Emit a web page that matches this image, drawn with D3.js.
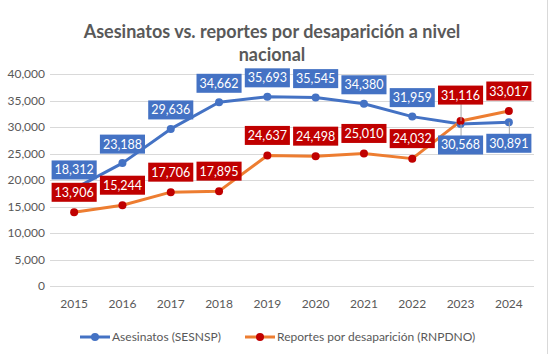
<!DOCTYPE html>
<html>
<head>
<meta charset="utf-8">
<script src="https://cdn.jsdelivr.net/npm/d3@7"></script>
<style>
  html, body { margin: 0; padding: 0; background: #fff; }
  svg { display: block; font-family: Lato, "Open Sans", sans-serif; }
</style>
</head>
<body>
<svg id="chart" width="550" height="354"></svg>
<script>
const years = ["2015","2016","2017","2018","2019","2020","2021","2022","2023","2024"];
const asesinatos = [18312, 23188, 29636, 34662, 35693, 35545, 34380, 31959, 30568, 30891];
const desapariciones = [13906, 15244, 17706, 17895, 24637, 24498, 25010, 24032, 31116, 33017];
const yTicks = [0, 5000, 10000, 15000, 20000, 25000, 30000, 35000, 40000];
const seriesNames = ["Asesinatos (SESNSP)", "Reportes por desaparición (RNPDNO)"];
const titleLines = ["Asesinatos vs. reportes por desaparición a nivel", "nacional"];

const W = 550, H = 354;
const svg = d3.select("#chart");
svg.append("rect").attr("width", W).attr("height", H).attr("fill", "#fff");
svg.append("line").attr("x1", 547.5).attr("x2", 547.5).attr("y1", 0).attr("y2", H)
  .attr("stroke", "#D9D9D9").attr("stroke-width", 1);

const plotL = 50, plotR = 533, plotT = 74, plotB = 286;
const x = d3.scaleBand().domain(years).range([plotL, plotR]).padding(0);
const cx = d => x(d) + x.bandwidth() / 2;
const y = d3.scaleLinear().domain([0, 40000]).range([plotB, plotT]);

// title
const title = svg.append("text").attr("text-anchor", "middle")
  .attr("fill", "#595959").attr("font-weight", "bold").attr("font-size", 18);
titleLines.forEach((t, i) => {
  title.append("tspan").attr("x", 272).attr("y", 38 + i * 23).text(t);
});

// gridlines
svg.append("g").selectAll("line").data(yTicks).join("line")
  .attr("x1", plotL).attr("x2", plotR + 1)
  .attr("y1", d => Math.round(y(d)) + 0.5).attr("y2", d => Math.round(y(d)) + 0.5)
  .attr("stroke", "#D9D9D9").attr("stroke-width", 1);

// y axis
const yAxis = svg.append("g").attr("transform", `translate(${plotL},0)`)
  .call(d3.axisLeft(y).tickValues(yTicks).tickSize(0).tickPadding(5).tickFormat(d3.format(",")));
yAxis.select(".domain").remove();
yAxis.selectAll("text").attr("fill", "#595959").attr("font-size", 12).attr("font-family", "Lato, sans-serif");

// x axis
const xAxis = svg.append("g").attr("transform", `translate(0,${plotB})`)
  .call(d3.axisBottom(x).tickSize(0).tickPadding(13));
xAxis.select(".domain").remove();
xAxis.selectAll("text").attr("fill", "#595959").attr("font-size", 12).attr("font-family", "Lato, sans-serif");

const BLUE = "#4472C4", ORANGE = "#ED7D31", RED = "#C00000";

const series = [
  { values: asesinatos, line: BLUE, marker: BLUE, box: BLUE },
  { values: desapariciones, line: ORANGE, marker: RED, box: RED }
];

const lineGen = d3.line().x((d, i) => cx(years[i])).y(d => y(d));

series.forEach(s => {
  svg.append("path").datum(s.values).attr("d", lineGen)
    .attr("fill", "none").attr("stroke", s.line).attr("stroke-width", 3)
    .attr("stroke-linejoin", "round").attr("stroke-linecap", "round");
});
series.forEach(s => {
  svg.append("g").selectAll("circle").data(s.values).join("circle")
    .attr("cx", (d, i) => cx(years[i])).attr("cy", d => y(d)).attr("r", 4)
    .attr("fill", s.marker);
});

// label offsets (placement of label centre relative to point, in px)
function offsetFor(si, i) {
  if (si === 0) return (i >= 8) ? 21 : -19;
  if (i === 8) return -26;
  return -20;
}

const fmt = d3.format(",");
const labelLayer = svg.append("g");
series.forEach((s, si) => {
  s.values.forEach((v, i) => {
    const off = offsetFor(si, i);
    const px = cx(years[i]), py = y(v);
    if (Math.abs(off) > 20 || (si === 0 && i >= 8)) {
      const edge = py + off + (off > 0 ? -9 : 9);
      labelLayer.append("line").attr("x1", px + 0.5).attr("x2", px + 0.5)
        .attr("y1", py).attr("y2", edge).attr("stroke", "#A6A6A6").attr("stroke-width", 1);
    }
  });
});
series.forEach((s, si) => {
  s.values.forEach((v, i) => {
    const off = offsetFor(si, i);
    const px = cx(years[i]), py = y(v) + off;
    const g = labelLayer.append("g");
    const rect = g.append("rect").attr("fill", s.box);
    const t = g.append("text").attr("x", px).attr("y", py).attr("dy", "0.36em")
      .attr("text-anchor", "middle").attr("fill", "#fff").attr("font-size", 12.5)
      .text(fmt(v));
    const w = t.node().getComputedTextLength() + 6;
    rect.attr("x", px - w / 2).attr("y", py - 9.5).attr("width", w).attr("height", 19);
  });
});

// legend
const legend = svg.append("g");
const legendStarts = [80, 245];
const legendY = 337;
seriesNames.forEach((name, i) => {
  const s = series[i];
  const x0 = legendStarts[i];
  legend.append("line").attr("x1", x0).attr("x2", x0 + 30).attr("y1", legendY).attr("y2", legendY)
    .attr("stroke", s.line).attr("stroke-width", 3);
  legend.append("circle").attr("cx", x0 + 15).attr("cy", legendY).attr("r", 4).attr("fill", s.marker);
  legend.append("text").attr("x", x0 + 32).attr("y", legendY).attr("dy", "0.35em")
    .attr("fill", "#595959").attr("font-size", 12).text(name);
});
</script>
</body>
</html>
